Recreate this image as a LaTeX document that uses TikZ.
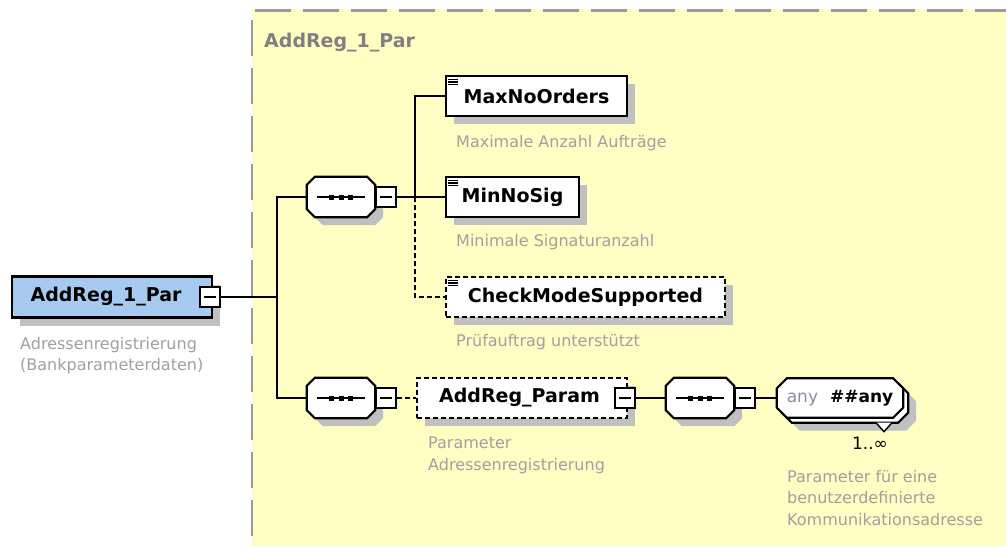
\documentclass[tikz,border=0pt]{standalone}
\usepackage{fontspec}
\setmainfont{DejaVu Sans}
\usetikzlibrary{calc}
\definecolor{paneyellow}{HTML}{FFFFC4}
\definecolor{rootblue}{HTML}{A6CAF0}
\definecolor{shadowgray}{HTML}{C0C0C0}
\definecolor{descgray}{HTML}{A0A0A0}
\definecolor{titlegray}{HTML}{808080}
\definecolor{bordergray}{HTML}{9A9A9A}
\definecolor{anygray}{HTML}{8C8CA0}
\pgfdeclarelayer{bg}
\pgfdeclarelayer{back}
\pgfsetlayers{bg,back,main}
\newcommand{\elfont}{\fontsize{19pt}{23pt}\selectfont\bfseries}
\newcommand{\descfont}{\fontsize{16pt}{21.5pt}\selectfont}
\newcommand{\anyfont}{\fontsize{17pt}{20pt}\selectfont}
% chamfered outline round a node: node, chamfer, offset, options
\newcommand{\chamf}[4]{\path[#4] ([shift={(#2+#3,#3)}]#1.north west) -- ([shift={(-#2+#3,#3)}]#1.north east) -- ([shift={(#3,#2+#3)}]#1.north east) -- ([shift={(#3,-#2+#3)}]#1.south east) -- ([shift={(-#2+#3,#3)}]#1.south east) -- ([shift={(#2+#3,#3)}]#1.south west) -- ([shift={(#3,-#2+#3)}]#1.south west) -- ([shift={(#3,#2+#3)}]#1.north west) -- cycle;}
\newcommand{\seqshape}[1]{%
  \begin{pgfonlayer}{back}
  \chamf{#1}{8}{8}{fill=shadowgray}
  \chamf{#1}{8}{0}{draw,fill=white,line width=2.2pt}
  \end{pgfonlayer}
  \draw[line width=2.2pt] ([xshift=-24pt]#1.center) -- ([xshift=24pt]#1.center);
  \foreach \dx in {-9.5,0,9.5} \fill ([xshift=\dx pt]#1.center) +(-2.5,-2.5) rectangle +(2.5,2.5);}
\newcommand{\anyshape}[1]{%
  \begin{pgfonlayer}{back}
  \chamf{#1}{10}{13}{fill=shadowgray}
  \chamf{#1}{10}{5}{draw,fill=white,line width=2.2pt}
  \chamf{#1}{10}{0}{draw,fill=white,line width=2.2pt}
  \draw[line width=1.4pt,fill=white] ([shift={(36,5)}]#1.south) -- ++(8,9) -- ++(8,-9);
  \end{pgfonlayer}}
\newcommand{\listicon}[1]{\foreach \yy in {4.5,7,9.5} \draw[line width=1.2pt] ([shift={(3,\yy)}]#1.north west) -- ++(10,0);}

\begin{document}
\begin{tikzpicture}[x=1pt,y=-1pt,
  conn/.style={line width=2.2pt},
  elem/.style={draw,line width=2.2pt,fill=white,inner sep=0pt,minimum height=40pt,font=\elfont,
    preaction={fill=shadowgray,transform canvas={shift={(8pt,-8pt)}}}},
  optional/.style={dash pattern=on 5pt off 3pt},
  seq/.style={inner sep=0pt,minimum width=68pt,minimum height=40pt},
  minus/.style={draw,line width=2.2pt,fill=white,inner sep=0pt,minimum size=20pt,
    path picture={\draw[line width=1.8pt] ([xshift=4pt]path picture bounding box.west) -- ([xshift=-4pt]path picture bounding box.east);}},
  desc/.style={anchor=north west,align=left,inner sep=0pt,text=descgray,font=\descfont}]
\useasboundingbox (0,0) rectangle (1006,546);

% pane
\begin{pgfonlayer}{bg}
\fill[paneyellow] (252,9) rectangle (1006,546);
\draw[bordergray,line width=3pt,dash pattern=on 36pt off 12pt] (255,10) -- (1006,10);
\draw[bordergray,line width=2pt,dash pattern=on 36pt off 12pt] (252,20) -- (252,546);
\end{pgfonlayer}
\node[anchor=base west,inner sep=0pt,text=titlegray,font=\elfont] (ttl) at (264,47) {AddReg\_1\_Par};

% root element
\node[elem,fill=rootblue,minimum width=200pt,minimum height=41pt] (root) at (112,297) {AddReg\_1\_Par\hspace*{12pt}};
\node[minus] (rootm) at (210,297) {};
\node[desc] (d0) at (20,337) {Adressenregistrierung\\(Bankparameterdaten)};

% sequences
\node[seq] (s1) at (341,197) {}; \seqshape{s1}
\node[minus] (s1m) at (386,197) {};
\node[seq] (s2) at (341,398) {}; \seqshape{s2}
\node[minus] (s2m) at (386,398) {};

% children
\node[elem,minimum width=181pt] (e1) at (536.5,96) {MaxNoOrders};
\node[desc] (d1) at (456,135) {Maximale Anzahl Aufträge};
\node[elem,minimum width=133pt] (e2) at (512.5,197) {MinNoSig};
\node[desc] (d2) at (456,234) {Minimale Signaturanzahl};
\node[elem,optional,minimum width=279pt] (e3) at (585.5,297) {CheckModeSupported};
\node[desc] (d3) at (456,334) {Prüfauftrag unterstützt};
\listicon{e1}\listicon{e2}\listicon{e3}

% parameter part
\node[elem,optional,minimum width=210pt] (p) at (522,398) {AddReg\_Param\hspace*{5pt}};
\node[minus] (pm) at (625,398) {};
\node[desc] (d4) at (428,437) {Parameter\\Adressenregistrierung};
\node[seq] (s3) at (700,398) {}; \seqshape{s3}
\node[minus] (s3m) at (745,398) {};

\node[inner sep=0pt,minimum width=126pt,minimum height=39pt,font=\anyfont] (any) at (840,398) {\textcolor{anygray}{any}\hspace{12pt}\textbf{\#\#any}};
\anyshape{any}
\node[inner sep=0pt,font=\anyfont] (mult) at (870,443) {1..∞};
\node[desc] (d5) at (787,470) {Parameter für eine\\benutzerdefinierte\\Kommunikationsadresse};

% connectors
\coordinate (j0) at (277,297);
\coordinate (j1) at (415,197);
\draw[conn] (rootm.east) -- (j0);
\draw[conn] (s1.west) -| (j0) |- (s2.west);
\draw[conn] (s1m.east) -- (e2.west);
\draw[conn] (j1) |- (e1.west);
\draw[conn,optional] (j1) |- (e3.west);
\draw[conn,optional] (s2m.east) -- (p.west);
\draw[conn] (pm.east) -- (s3.west);
\draw[conn] (s3m.east) -- (any.west);
\end{tikzpicture}
\end{document}
